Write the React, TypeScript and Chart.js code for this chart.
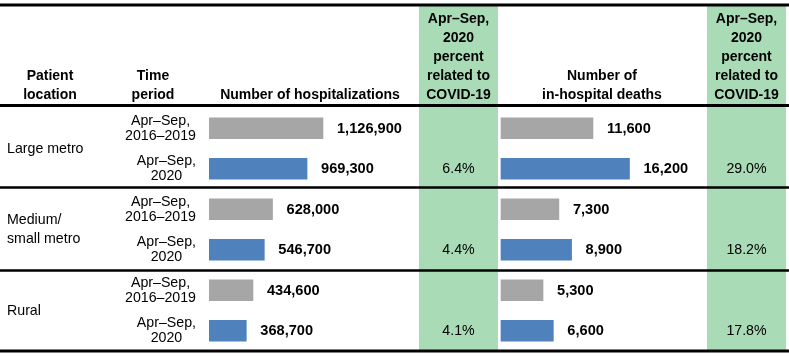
import { useEffect, useRef } from "react";
import { Chart, registerables } from "chart.js";

Chart.register(...registerables);

// ---------- data ----------
const locations = ["Large metro", "Medium/\nsmall metro", "Rural"];
const periods = ["Apr–Sep,\n2016–2019", "Apr–Sep,\n2020"];
const hospitalizations = [1126900, 969300, 628000, 546700, 434600, 368700];
const deaths = [11600, 16200, 7300, 8900, 5300, 6600];
const hospPctCovid = ["6.4%", "4.4%", "4.1%"];
const deathPctCovid = ["29.0%", "18.2%", "17.8%"];
const headerLocation = "Patient\nlocation";
const headerPeriod = "Time\nperiod";
const headerHosp = "Number of hospitalizations";
const headerDeaths = "Number of\nin-hospital deaths";
const headerPct = "Apr–Sep,\n2020\npercent\nrelated to\nCOVID-19";

const rowLabels = locations.flatMap((l) => periods.map((p) => `${l} | ${p}`));

// ---------- styles / layout ----------
const W = 789;
const H = 356;
const FONT = '"Liberation Sans", Arial, sans-serif';
const periodColors = ["#a6a6a6", "#4f81bd"];
const GREEN = "#a9dcb6";
const greenCols = [
  [419, 498],
  [707, 786],
];
const ruleYs = [
  [5, 3],
  [105.5, 3],
  [187.5, 2.5],
  [270.5, 2.5],
  [351, 3],
];

function drawLines(ctx: CanvasRenderingContext2D, text: string, x: number, yCenter: number, lh: number, font: string, align: CanvasTextAlign) {
  const lines = text.split("\n");
  ctx.font = font;
  ctx.textAlign = align;
  ctx.textBaseline = "middle";
  const start = yCenter - ((lines.length - 1) * lh) / 2;
  lines.forEach((ln, i) => ctx.fillText(ln, x, start + i * lh));
}

function drawBottomLines(ctx: CanvasRenderingContext2D, text: string, x: number, yLast: number, lh: number, font: string) {
  const lines = text.split("\n");
  ctx.font = font;
  ctx.textAlign = "center";
  ctx.textBaseline = "middle";
  lines.forEach((ln, i) => ctx.fillText(ln, x, yLast - (lines.length - 1 - i) * lh));
}

const tablePlugin = {
  id: "tableDecor",
  beforeDraw(chart: any) {
    const ctx: CanvasRenderingContext2D = chart.ctx;
    ctx.save();
    ctx.fillStyle = "#ffffff";
    ctx.fillRect(0, 0, W, H);
    ctx.fillStyle = GREEN;
    greenCols.forEach(([a, b]) => ctx.fillRect(a, 5, b - a, 346));
    ctx.fillStyle = "#000000";
    ruleYs.forEach(([y, t]) => ctx.fillRect(0, y - t / 2, W, t));
    ctx.restore();
  },
  afterDatasetsDraw(chart: any) {
    const ctx: CanvasRenderingContext2D = chart.ctx;
    const yScale = chart.scales.y;
    ctx.save();
    ctx.fillStyle = "#000000";
    const bold = `bold 14px ${FONT}`;
    const boldVal = `bold 14.6px ${FONT}`;
    const reg = `14.2px ${FONT}`;

    // headers
    drawBottomLines(ctx, headerLocation, 50, 95, 19, bold);
    drawBottomLines(ctx, headerPeriod, 153, 95, 19, bold);
    drawBottomLines(ctx, headerHosp, 310, 95, 19, bold);
    drawBottomLines(ctx, headerDeaths, 602, 95, 19, bold);
    greenCols.forEach(([a, b]) => drawBottomLines(ctx, headerPct, (a + b) / 2, 95, 19, bold));

    // value labels
    chart.data.datasets.forEach((ds: any, di: number) => {
      const meta = chart.getDatasetMeta(di);
      meta.data.forEach((bar: any, i: number) => {
        ctx.font = boldVal;
        ctx.textAlign = "left";
        ctx.textBaseline = "middle";
        ctx.fillText(Number(ds.data[i]).toLocaleString("en-US"), bar.x + 14, bar.y + 0.5);
      });
    });

    // period labels (right-aligned block, centered lines)
    rowLabels.forEach((_, i) => {
      const yc = yScale.getPixelForValue(i);
      const txt = periods[i % periods.length];
      ctx.font = reg;
      const maxW = Math.max(...txt.split("\n").map((s) => ctx.measureText(s).width));
      drawLines(ctx, txt, 196 - maxW / 2, yc, 15, reg, "center");
    });

    // location labels and percentages
    locations.forEach((loc, g) => {
      const y0 = yScale.getPixelForValue(g * 2);
      const y1 = yScale.getPixelForValue(g * 2 + 1);
      drawLines(ctx, loc, 7, (y0 + y1) / 2 + 0.5, 19, reg, "left");
      drawLines(ctx, hospPctCovid[g], (greenCols[0][0] + greenCols[0][1]) / 2, y1, 15, reg, "center");
      drawLines(ctx, deathPctCovid[g], (greenCols[1][0] + greenCols[1][1]) / 2, y1, 15, reg, "center");
    });
    ctx.restore();
  },
};

export default function App() {
  const ref = useRef<HTMLCanvasElement | null>(null);
  useEffect(() => {
    if (!ref.current) return;
    const chart = new Chart(ref.current, {
      type: "bar",
      data: {
        labels: rowLabels,
        datasets: [
          {
            label: headerHosp,
            data: hospitalizations,
            xAxisID: "xHosp",
            backgroundColor: (c: any) => periodColors[c.dataIndex % 2],
            grouped: false,
            barThickness: 21,
          } as any,
          {
            label: headerDeaths.replace("\n", " "),
            data: deaths,
            xAxisID: "xDeaths",
            backgroundColor: (c: any) => periodColors[c.dataIndex % 2],
            grouped: false,
            barThickness: 21,
          } as any,
        ],
      },
      options: {
        indexAxis: "y",
        responsive: false,
        animation: false,
        layout: { padding: { left: 209, right: W - 707, top: 108, bottom: H - 351 } },
        scales: {
          y: { type: "category", display: false },
          xHosp: { type: "linear", display: false, position: "bottom", min: 0, max: 4922800 },
          xDeaths: { type: "linear", display: false, position: "bottom", min: -36817, max: 25974 },
        },
        plugins: { legend: { display: false }, tooltip: { enabled: false } },
      } as any,
      plugins: [tablePlugin],
    });
    return () => chart.destroy();
  }, []);
  return (
    <div style={{ position: "fixed", left: 0, top: 0, width: W, height: H, background: "#fff" }}>
      <canvas ref={ref} width={W} height={H} style={{ display: "block", width: W, height: H }} />
    </div>
  );
}
